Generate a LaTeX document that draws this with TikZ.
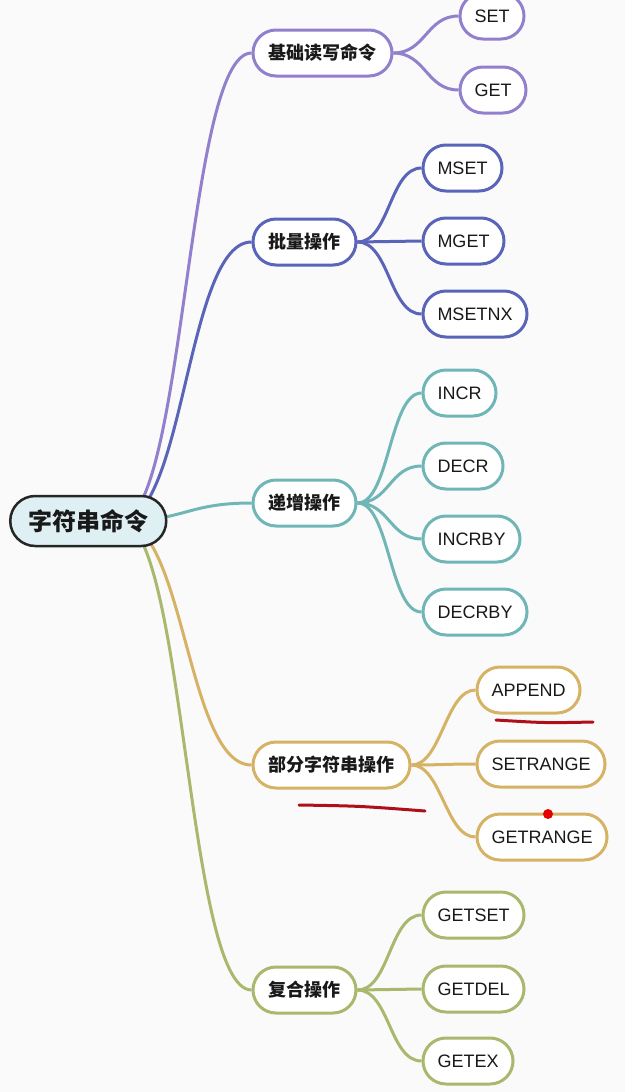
\documentclass[tikz,border=0pt]{standalone}
\usepackage{fontspec}
\setmainfont{Liberation Sans}
\newfontfamily\cjk{Noto Sans CJK SC}
\usetikzlibrary{backgrounds}
\definecolor{bgcol}{RGB}{250,250,251}
\definecolor{cpurple}{RGB}{146,128,204}
\definecolor{cblue}{RGB}{90,100,185}
\definecolor{cteal}{RGB}{112,182,182}
\definecolor{cgold}{RGB}{214,178,100}
\definecolor{cgreen}{RGB}{168,184,108}
\definecolor{rootfill}{RGB}{223,240,245}
\definecolor{inkred}{RGB}{175,15,25}
\tikzset{
  rootnode/.style={rectangle, rounded corners=25pt, draw=black!85, line width=2.5pt, fill=rootfill, minimum height=50pt, inner xsep=18pt, anchor=west, text=black!90, font=\cjk\bfseries\fontsize{24}{28}\selectfont},
  topicnode/.style={rectangle, rounded corners=23pt, draw=#1, line width=3pt, fill=white, minimum height=46pt, inner xsep=15.5pt, anchor=west, text=black!90, font=\cjk\bfseries\fontsize{18}{22}\selectfont},
  leafnode/.style={rectangle, rounded corners=23pt, draw=#1, line width=3pt, fill=white, minimum height=46pt, inner xsep=14.5pt, anchor=west, text=black!90, font=\fontsize{18}{21}\selectfont},
  link/.style={line width=3pt, draw=#1},
  inkmark/.style={draw=inkred, line width=3pt, line cap=round}
}

\begin{document}
\begin{tikzpicture}[x=1pt, y=-1pt]
  \useasboundingbox (0,0) rectangle (625,1092);

  \node[rootnode] (root) at (9,521) {字符串命令};
  \coordinate (rootout) at (120,521);

  \node[topicnode=cpurple] (basic) at (251.5,53) {基础读写命令};
  \node[topicnode=cblue] (batch) at (251.5,242) {批量操作};
  \node[topicnode=cteal] (incr) at (251.5,503) {递增操作};
  \node[topicnode=cgold] (part) at (251.5,765) {部分字符串操作};
  \node[topicnode=cgreen] (comp) at (251.5,990) {复合操作};

  \node[leafnode=cpurple] (set) at (458.5,16) {SET};
  \node[leafnode=cpurple] (get) at (458.5,90) {GET};

  \node[leafnode=cblue] (mset) at (421.5,168) {MSET};
  \node[leafnode=cblue] (mget) at (421.5,241) {MGET};
  \node[leafnode=cblue] (msetnx) at (421.5,314) {MSETNX};

  \node[leafnode=cteal] (incrl) at (421.5,393) {INCR};
  \node[leafnode=cteal] (decr) at (421.5,466) {DECR};
  \node[leafnode=cteal] (incrby) at (421.5,539) {INCRBY};
  \node[leafnode=cteal] (decrby) at (421.5,612) {DECRBY};

  \node[leafnode=cgold] (append) at (475.5,690) {APPEND};
  \node[leafnode=cgold] (setrange) at (475.5,764) {SETRANGE};
  \node[leafnode=cgold] (getrange) at (475.5,837) {GETRANGE};

  \node[leafnode=cgreen] (getset) at (421.5,915) {GETSET};
  \node[leafnode=cgreen] (getdel) at (421.5,989) {GETDEL};
  \node[leafnode=cgreen] (getex) at (421.5,1061) {GETEX};

  \begin{pgfonlayer}{background}
    \fill[bgcol] (0,0) rectangle (625,1092);

    \draw[link=cpurple] (rootout) .. controls +(65,0) and +(-65,0) .. (basic.west);
    \draw[link=cblue] (rootout) .. controls +(65,0) and +(-65,0) .. (batch.west);
    \draw[link=cteal] (rootout) .. controls +(65,0) and +(-65,0) .. (incr.west);
    \draw[link=cgold] (rootout) .. controls +(65,0) and +(-65,0) .. (part.west);
    \draw[link=cgreen] (rootout) .. controls +(65,0) and +(-65,0) .. (comp.west);

    \foreach \leaf in {set,get}
      \draw[link=cpurple] (basic.east) .. controls +(32,0) and +(-32,0) .. (\leaf.west);
    \foreach \leaf in {mset,mget,msetnx}
      \draw[link=cblue] (batch.east) .. controls +(32,0) and +(-32,0) .. (\leaf.west);
    \foreach \leaf in {incrl,decr,incrby,decrby}
      \draw[link=cteal] (incr.east) .. controls +(32,0) and +(-32,0) .. (\leaf.west);
    \foreach \leaf in {append,setrange,getrange}
      \draw[link=cgold] (part.east) .. controls +(30,0) and +(-30,0) .. (\leaf.west);
    \foreach \leaf in {getset,getdel,getex}
      \draw[link=cgreen] (comp.east) .. controls +(32,0) and +(-32,0) .. (\leaf.west);
  \end{pgfonlayer}

  % handwritten marks
  \draw[inkmark] (496,720) .. controls (545,723) .. (593,722);
  \draw[inkmark] (299,805) .. controls (360,806) .. (425,811);
  \fill[red!90!black] (548,814) circle (5pt);
\end{tikzpicture}
\end{document}
